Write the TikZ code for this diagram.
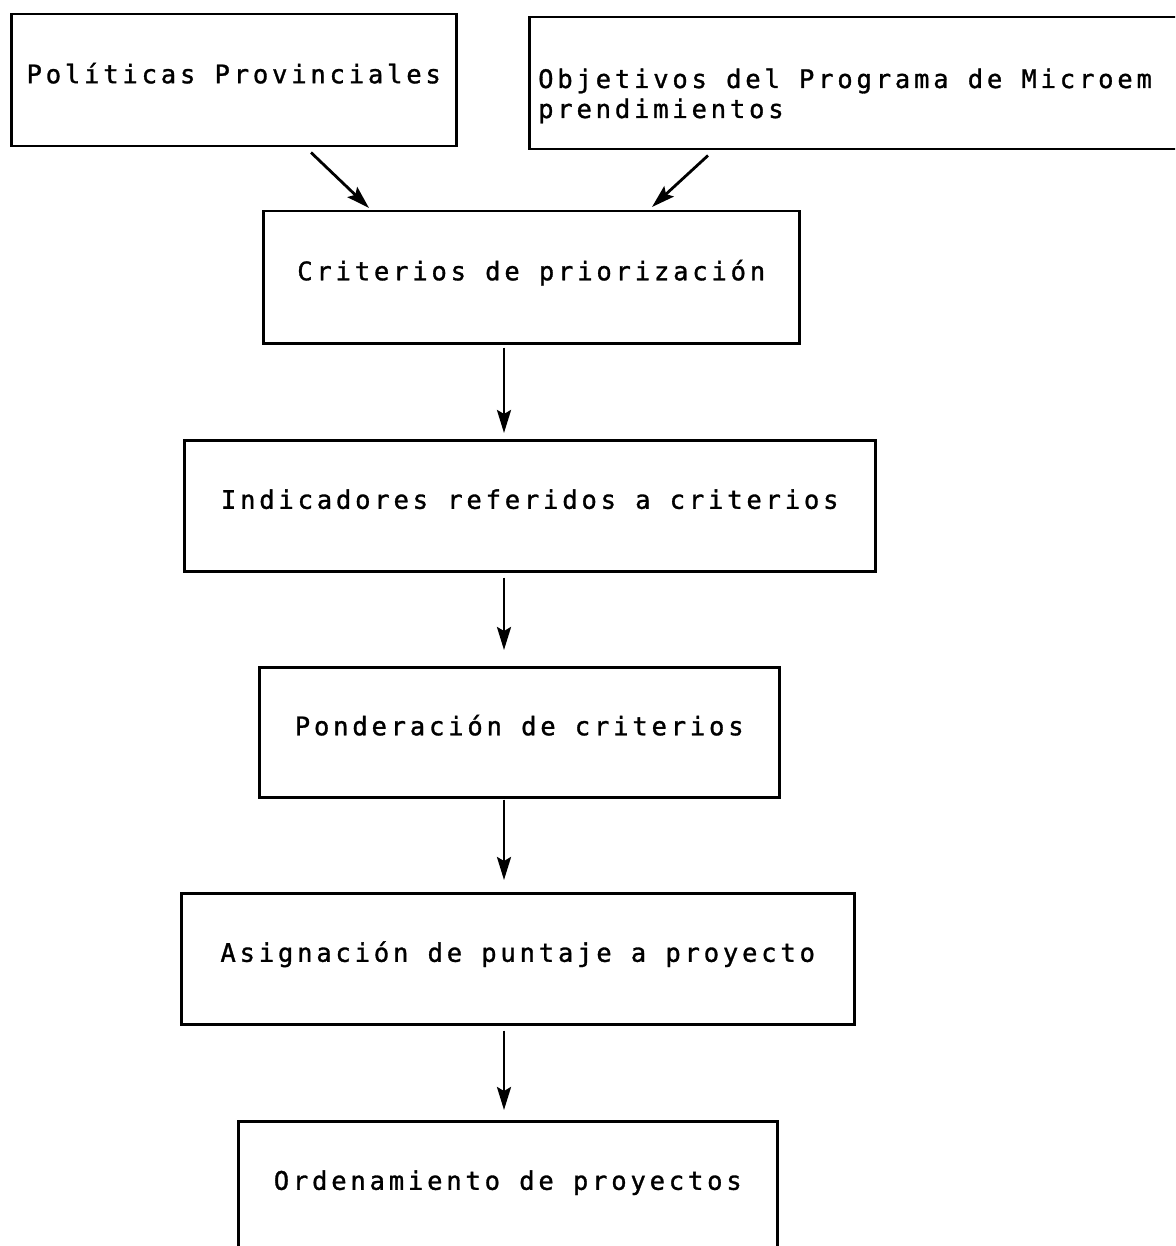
\documentclass[tikz,border=0pt]{standalone}
\usepackage{fontspec}
\setmonofont[LetterSpace=15,FakeBold=1.2]{DejaVu Sans Mono}
\usetikzlibrary{arrows.meta,calc}
\begin{document}
\begin{tikzpicture}[x=1pt,y=-1pt,
  box/.style={draw=black,line width=2.5pt,anchor=north west,inner sep=0pt,
    font=\ttfamily\fontsize{25.5}{30}\selectfont,text height=15pt,text depth=9pt},
  lbl/.style={inner sep=0pt,font=\ttfamily\fontsize{25.5}{30}\selectfont},
  arr/.style={line width=2.8pt,-{Stealth[length=23pt,width=14pt,inset=4pt]}}]
\useasboundingbox (0,0) rectangle (1175,1246);
\clip (0,0) rectangle (1175,1246);
\node[box,minimum width=445pt,minimum height=132pt] (b1) at (10,13) {Políticas Provinciales};
\node[box,minimum width=680pt,minimum height=132pt] (b2) at (528,16) {};
\node[lbl,anchor=base west,align=left] (t2) at (538,118) {Objetivos del Programa de Microem\\prendimientos};
\node[box,minimum width=536pt,minimum height=132pt] (b3) at (262,210) {Criterios de priorización};
\node[box,minimum width=691pt,minimum height=131pt] (b4) at (183,439) {Indicadores referidos a criterios};
\node[box,minimum width=520pt,minimum height=130pt] (b5) at (258,666) {Ponderación de criterios};
\node[box,minimum width=673pt,minimum height=131pt] (b6) at (180,892) {Asignación de puntaje a proyecto};
\node[box,minimum width=539pt,minimum height=131pt] (b7) at (237,1120) {Ordenamiento de proyectos};
\coordinate (ax) at (504,0);
\draw[arr] ($(b1.south west)+(301,5)$) -- ($(b3.north west)+(107,-2)$);
\draw[arr] ($(b2.south west)+(180,5)$) -- ($(b3.north west)+(390,-3)$);
\draw[arr] ([yshift=-3pt]b3.south -| ax) -- ([yshift=6pt]b4.north -| ax);
\draw[arr] ([yshift=-5pt]b4.south -| ax) -- ([yshift=16pt]b5.north -| ax);
\draw[arr] ([yshift=-1pt]b5.south -| ax) -- ([yshift=12pt]b6.north -| ax);
\draw[arr] ([yshift=-5pt]b6.south -| ax) -- ([yshift=10pt]b7.north -| ax);
\end{tikzpicture}
\end{document}
